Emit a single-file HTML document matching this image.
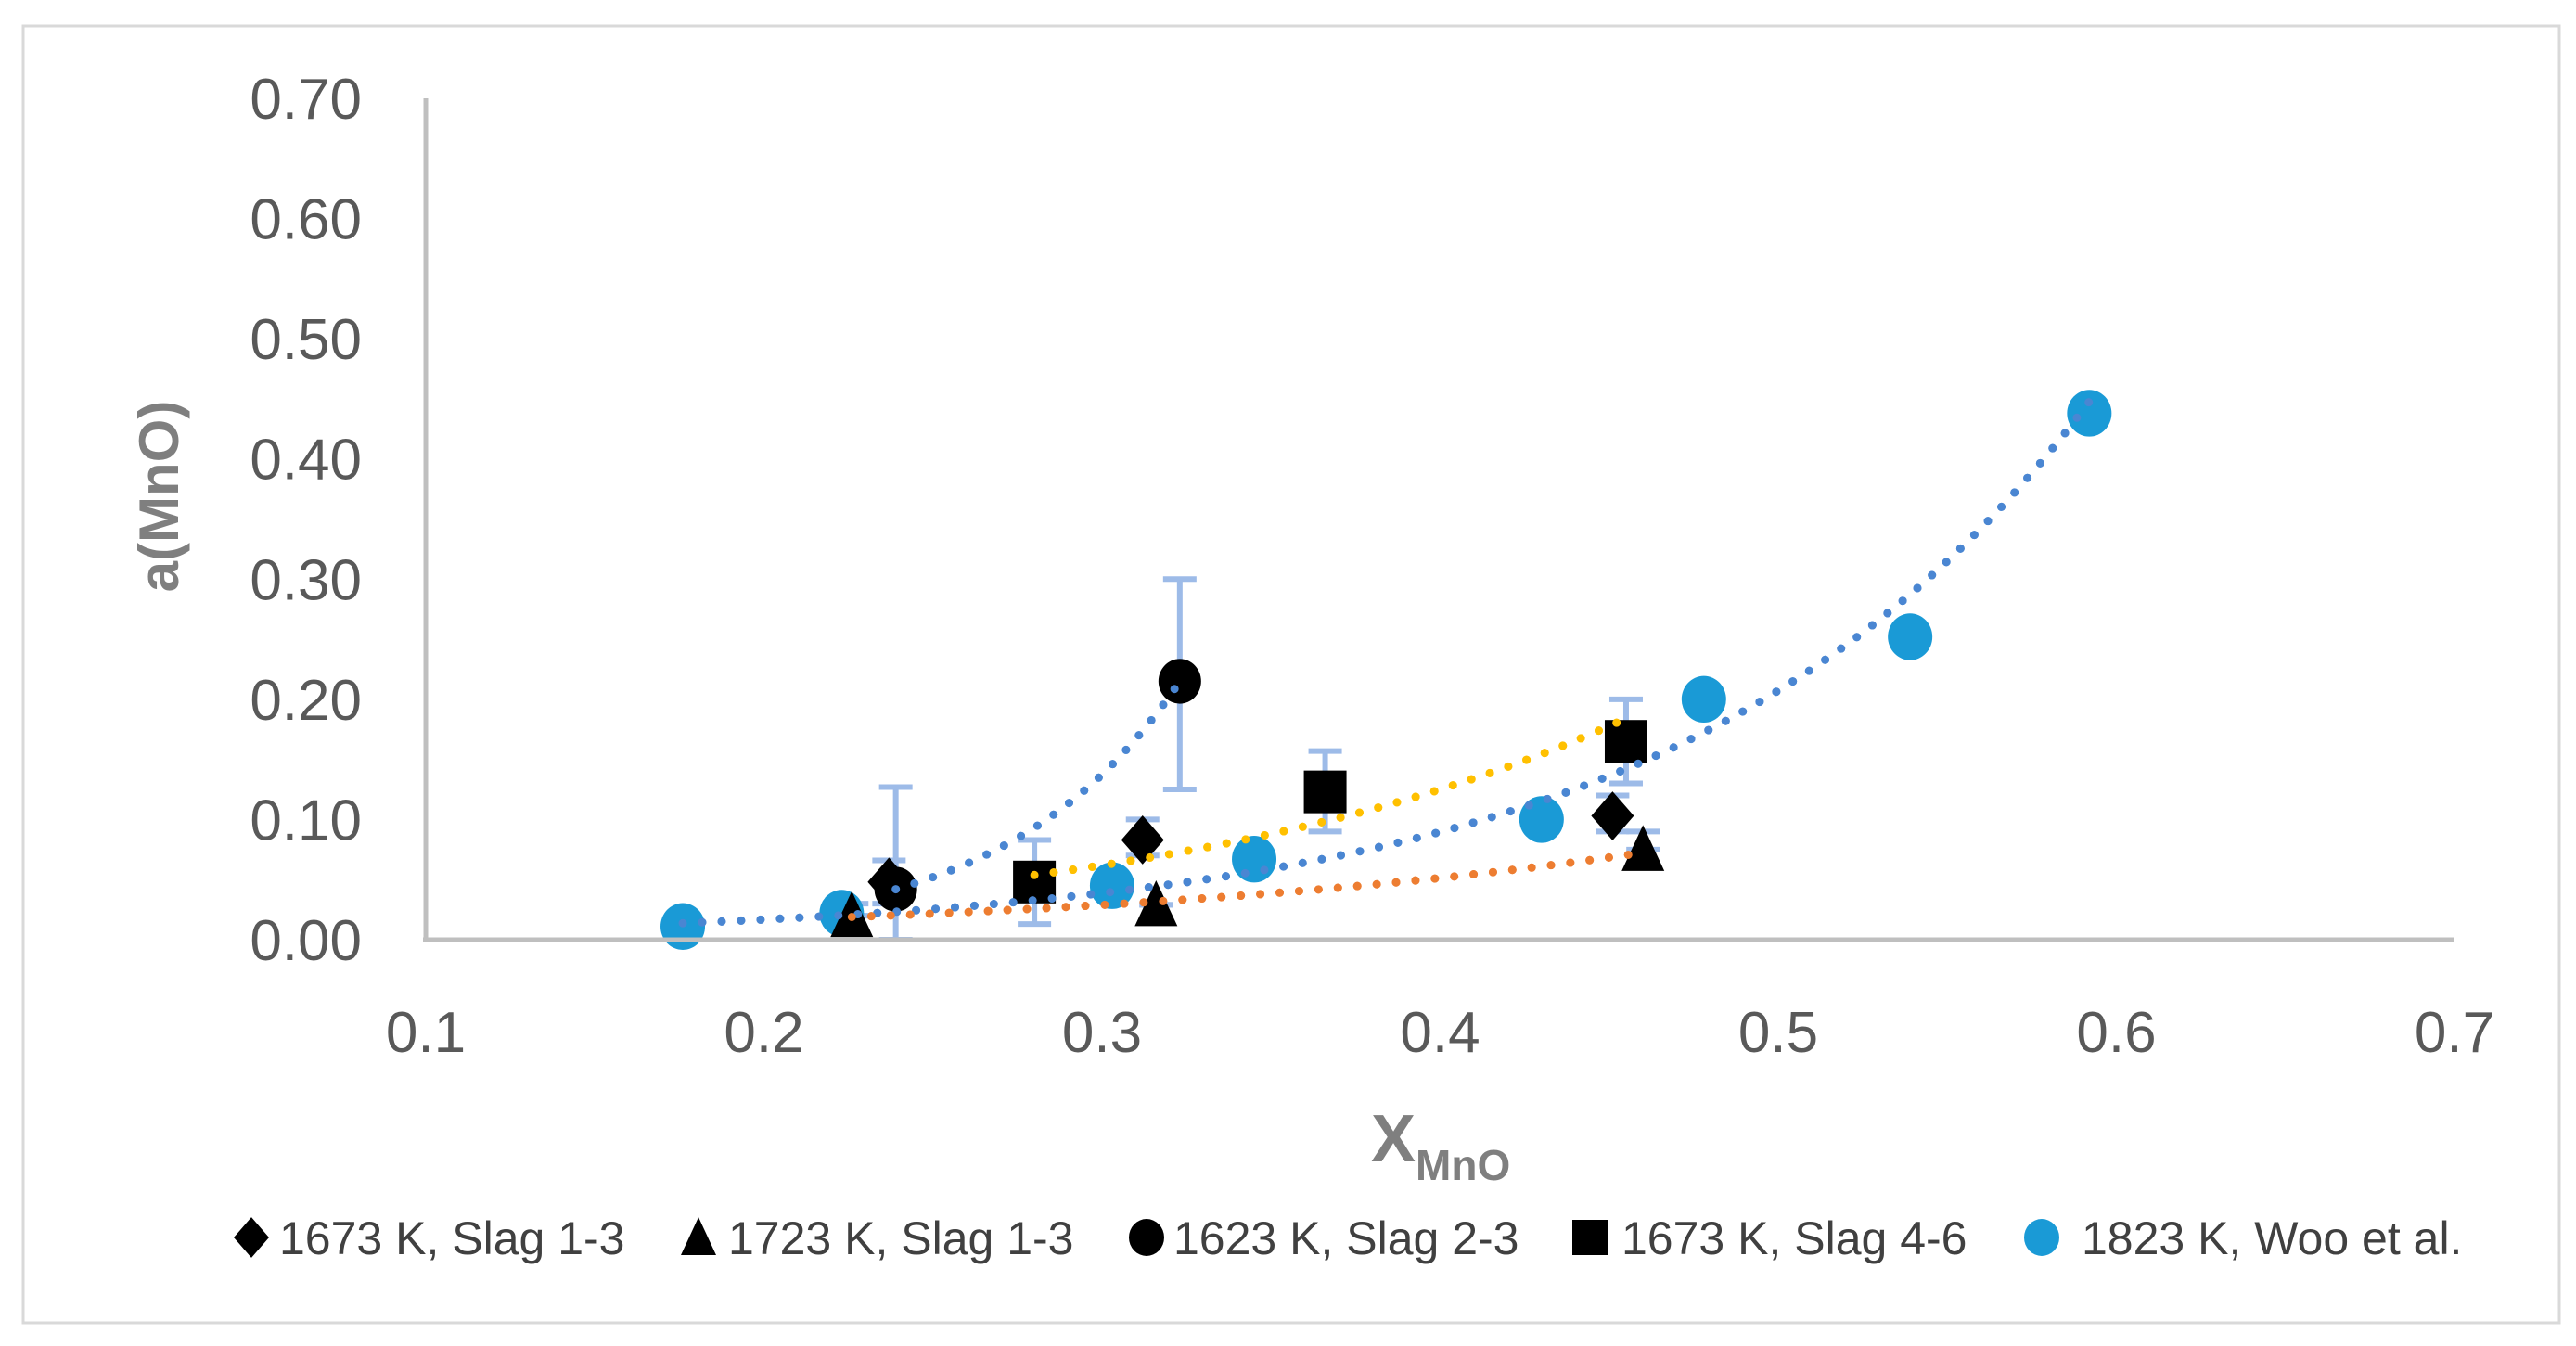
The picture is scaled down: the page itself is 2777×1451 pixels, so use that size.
<!DOCTYPE html>
<html><head><meta charset="utf-8"><style>
html,body{margin:0;padding:0;background:#fff;}
svg{display:block;font-family:"Liberation Sans",sans-serif;}
</style></head><body>
<svg id="chart" width="2777" height="1451" viewBox="0 0 2777 1451" xmlns="http://www.w3.org/2000/svg">
<rect x="25" y="28" width="2734" height="1398" fill="#fff" stroke="#d9d9d9" stroke-width="3"/>
<g id="trends"></g>
<g id="errs"></g>
<g id="marks"></g>
<g id="axes"></g>
<text transform="translate(192,535) rotate(-90)" text-anchor="middle" font-size="60" font-weight="bold" fill="#7f7f7f">a(MnO)</text>
<text x="1478" y="1252" font-size="72" fill="#7f7f7f" font-weight="bold">X<tspan font-size="46" dy="20">MnO</tspan></text>
<g id="legend"></g>
</svg>
<script>
const xTicks=[0.1,0.2,0.3,0.4,0.5,0.6,0.7];
const yTicks=[0,0.1,0.2,0.3,0.4,0.5,0.6,0.7];
const diaX=[0.237,0.312,0.451], diaY=[0.048,0.083,0.103], diaLo=[0.03,0.07,0.09], diaHi=[0.066,0.10,0.12];
const triX=[0.226,0.316,0.460], triY=[0.020,0.029,0.075], triLo=[0.02,0.029,0.075], triHi=[0.03,0.029,0.09];
const cirX=[0.239,0.323], cirY=[0.042,0.215], cirLo=[0.0,0.125], cirHi=[0.127,0.300];
const sqX=[0.280,0.366,0.455], sqY=[0.048,0.123,0.165], sqLo=[0.013,0.09,0.13], sqHi=[0.083,0.157,0.20];
const wooX=[0.176,0.223,0.303,0.345,0.430,0.478,0.539,0.592], wooY=[0.011,0.022,0.045,0.067,0.100,0.200,0.252,0.438];
const legendLabels=["1673 K, Slag 1-3","1723 K, Slag 1-3","1623 K, Slag 2-3","1673 K, Slag 4-6","1823 K, Woo et al."];

const NS="http://www.w3.org/2000/svg";
const X0=459,X1=2646,Y0=1013,Y1=106;
const sx=v=>X0+(v-0.1)/0.6*(X1-X0);
const sy=v=>Y0-v/0.7*(Y0-Y1);
function el(tag,attrs,parent){const e=document.createElementNS(NS,tag);for(const k in attrs)e.setAttribute(k,attrs[k]);parent.appendChild(e);return e;}
const axes=document.getElementById('axes'),trends=document.getElementById('trends'),errs=document.getElementById('errs'),marks=document.getElementById('marks'),legend=document.getElementById('legend');

let ya=el('line',{x1:X0,y1:Y1,x2:X0,y2:Y0+3,stroke:'#bfbfbf','stroke-width':5},axes);


let xa=el('line',{x1:X0-3,y1:Y0,x2:X1,y2:Y0,stroke:'#bfbfbf','stroke-width':5},axes);


yTicks.forEach(t=>{const e=el('text',{x:390,y:sy(t)+22,'text-anchor':'end','font-size':62,fill:'#595959'},axes);e.textContent=t.toFixed(2);

});
xTicks.forEach(t=>{const e=el('text',{x:sx(t),y:1134,'text-anchor':'middle','font-size':62,fill:'#595959'},axes);e.textContent=String(t);

});

function expFit(xs,ys){const n=xs.length;let sx_=0,sl=0,sxx=0,sxl=0;xs.forEach((x,i)=>{const l=Math.log(ys[i]);sx_+=x;sl+=l;sxx+=x*x;sxl+=x*l;});const b=(n*sxl-sx_*sl)/(n*sxx-sx_*sx_);const a=Math.exp((sl-b*sx_)/n);return [a,b];}
function trend(xs,ys,color,name){const [a,b]=expFit(xs,ys);const lo=Math.min(...xs),hi=Math.max(...xs);let d='';for(let i=0;i<=60;i++){const x=lo+(hi-lo)*i/60;d+=(i?'L':'M')+sx(x).toFixed(1)+','+sy(a*Math.exp(b*x)).toFixed(1);}
const p=el('path',{d:d,fill:'none',stroke:color,'stroke-width':9,'stroke-linecap':'round','stroke-dasharray':'0 21'},trends);

}
trend(wooX,wooY,'#4a86d2','trendline-woo');
trend(cirX,cirY,'#4a86d2','trendline-1623k');
trend(sqX,sqY,'#ffc000','trendline-1673k-slag4-6');
trend(triX,triY,'#ed7d31','trendline-1723k');

function errbars(xs,lo,hi,name){xs.forEach((x,i)=>{const g=el('g',{stroke:'#9dbbe8','stroke-width':6,fill:'none'},errs);


const cx=sx(x);el('line',{x1:cx,y1:sy(lo[i]),x2:cx,y2:sy(hi[i])},g);el('line',{x1:cx-18,y1:sy(lo[i]),x2:cx+18,y2:sy(lo[i])},g);el('line',{x1:cx-18,y1:sy(hi[i]),x2:cx+18,y2:sy(hi[i])},g);});}
errbars(diaX,diaLo,diaHi,'error-bar-1673k');
errbars(triX,triLo,triHi,'error-bar-1723k');
errbars(cirX,cirLo,cirHi,'error-bar-1623k');
errbars(sqX,sqLo,sqHi,'error-bar-1673k-slag4-6');

function marker(type,cx,cy,r,parent,name){let e;
if(type==='dia')e=el('polygon',{points:`${cx},${cy-r*1.15} ${cx+r},${cy} ${cx},${cy+r*1.15} ${cx-r},${cy}`,fill:'#000'},parent);
else if(type==='tri')e=el('polygon',{points:`${cx},${cy-r*1.15} ${cx+r},${cy+r} ${cx-r},${cy+r}`,fill:'#000'},parent);
else if(type==='sq')e=el('rect',{x:cx-r,y:cy-r,width:2*r,height:2*r,fill:'#000'},parent);
else if(type==='cir')e=el('ellipse',{cx:cx,cy:cy,rx:r,ry:r*1.05,fill:'#000'},parent);
else e=el('ellipse',{cx:cx,cy:cy,rx:r,ry:r*1.05,fill:'#1a9ad6'},parent);

}
wooX.forEach((x,i)=>marker('woo',sx(x),sy(wooY[i]),24,marks,'point-woo'));
sqX.forEach((x,i)=>marker('sq',sx(x),sy(sqY[i]),23,marks,'point-1673k-slag4-6'));
cirX.forEach((x,i)=>marker('cir',sx(x),sy(cirY[i]),23,marks,'point-1623k'));
triX.forEach((x,i)=>marker('tri',sx(x),sy(triY[i]),23,marks,'point-1723k'));
diaX.forEach((x,i)=>marker('dia',sx(x),sy(diaY[i]),23,marks,'point-1673k'));
trends.parentNode.appendChild(trends.cloneNode(true));

const legX=[271,753,1236,1714,2201], legTX=[301,785,1265,1748,2244], legT=['dia','tri','cir','sq','woo'];
legendLabels.forEach((lab,i)=>{const g=el('g',{},legend);


marker(legT[i],legX[i],1334,19,g,'legend-marker');
const t=el('text',{x:legTX[i],y:1352,'font-size':50,fill:'#404040'},g);t.textContent=lab;

});
</script>
</body></html>
